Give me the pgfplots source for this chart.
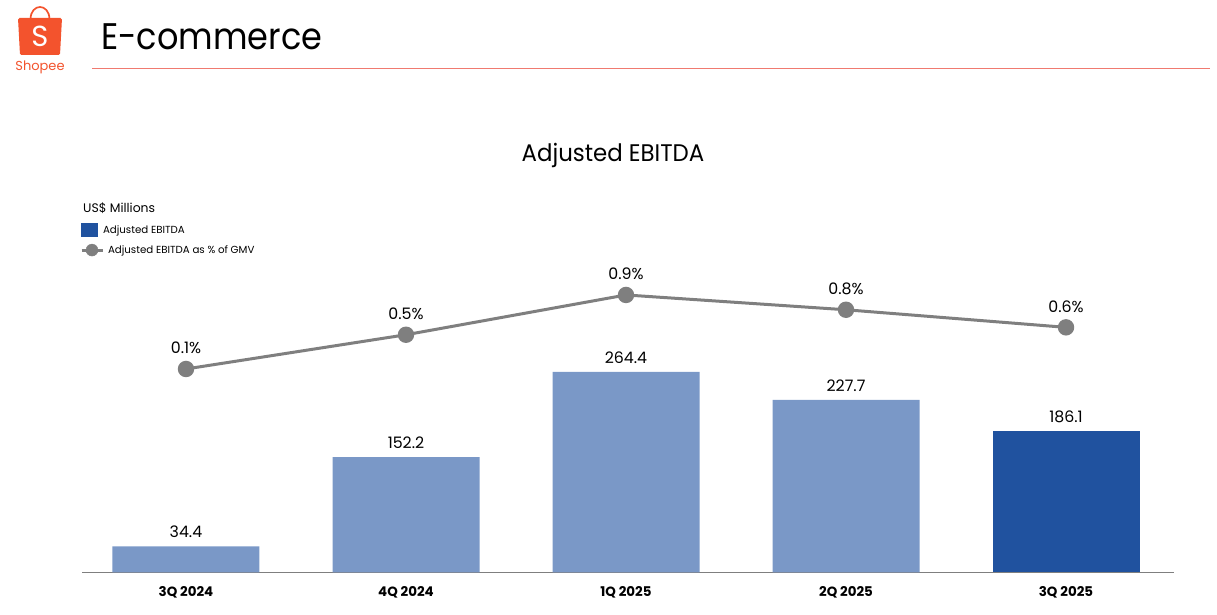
\documentclass[border=0pt]{standalone}
\usepackage{fontspec}
\usepackage{pgfplots}
\pgfplotsset{compat=1.18}
\setmainfont{Liberation Sans}
\newfontfamily\headfont{Poppins}
\newfontfamily\titlefont[FakeStretch=0.906]{Poppins}
\newfontfamily\subtitlefont[FakeStretch=0.953]{Poppins}
\definecolor{barlight}{HTML}{7A98C7}
\definecolor{bardark}{HTML}{20529F}
\definecolor{linegrey}{HTML}{7F7F7F}
\definecolor{shopee}{HTML}{F3532D}
\definecolor{rulered}{HTML}{F07A70}
\begin{document}
\begin{tikzpicture}[x=1pt,y=1pt]
  \path[use as bounding box] (0,0) rectangle (1217,615);

  % bars, 0.758 px per US$ million
  \begin{axis}[
      name=bars,
      at={(82pt,42.5pt)}, anchor=south west,
      scale only axis, width=1092pt, height=300pt,
      xmin=-0.4727, xmax=4.4909,
      ymin=0, ymax=395.6,
      axis x line*=bottom,
      axis y line=none,
      axis line style={draw=linegrey, line width=1pt, -},
      xtick={0,1,2,3,4},
      xticklabels={3Q 2024,4Q 2024,1Q 2025,2Q 2025,3Q 2025},
      major tick length=0pt,
      xticklabel style={font=\headfont\bfseries\fontsize{13.4}{15}\selectfont, text=black, yshift=-10pt},
      ybar, bar shift=0pt, bar width=147pt,
      point meta=explicit symbolic,
      nodes near coords,
      nodes near coords style={font=\headfont\fontsize{15.8}{17}\selectfont, text=black, yshift=5pt},
      clip=false,
      legend style={
        at={(-2pt,349pt)}, anchor=north west, draw=none, fill=none,
        font=\headfont\fontsize{10.25}{13}\selectfont,
        inner sep=0pt, outer sep=0pt,
        row sep=6.5pt, cells={anchor=west},
      },
    ]
    \addplot[draw=none, fill=barlight, forget plot] coordinates {
      (0,34.4) [34.4]
      (1,152.2) [152.2]
      (2,264.4) [264.4]
      (3,227.7) [227.7]
    };
    \addplot[draw=none, fill=bardark, forget plot] coordinates {
      (4,186.1) [186.1]
    };
    \addlegendimage{legend image code/.code={\fill[bardark] (0pt,-6.5pt) rectangle (16pt,6.5pt);}}
    \addlegendentry{\hspace*{-3pt}Adjusted EBITDA}
    \addlegendimage{legend image code/.code={
      \draw[linegrey, line width=3pt] (0pt,0pt) -- (21pt,0pt);
      \fill[linegrey] (10.5pt,0pt) circle (6pt);}}
    \addlegendentry{\hspace*{2pt}Adjusted EBITDA as \% of GMV}
  \end{axis}

  % line on its own hidden scale
  \begin{axis}[
      at={(82pt,42.5pt)}, anchor=south west,
      scale only axis, width=1092pt, height=300pt,
      xmin=-0.4727, xmax=4.4909,
      ymin=-2.07, ymax=1.173,
      hide axis,
      clip=false,
      point meta=explicit symbolic,
      nodes near coords,
      nodes near coords style={font=\headfont\fontsize{15.8}{17}\selectfont, text=black, yshift=10pt},
    ]
    \addplot[linegrey, line width=3pt, mark=*, mark size=6.7pt, mark options={fill=linegrey, draw=none}] coordinates {
      (0,0.13) [0.1\%]
      (1,0.50) [0.5\%]
      (2,0.93) [0.9\%]
      (3,0.77) [0.8\%]
      (4,0.58) [0.6\%]
    };
  \end{axis}

  % slide furniture, coordinates in reference pixels from the top
  \begin{scope}[yshift=615pt, y=-1pt]
    \draw[rulered, line width=1.2pt] (92,68.5) -- (1210,68.5);
    \node[anchor=west, inner sep=0pt, font=\titlefont\fontsize{37}{40}\selectfont] at (101,37) {E-commerce};
    \node[inner sep=0pt, font=\subtitlefont\fontsize{24}{28}\selectfont] at (613,155) {Adjusted EBITDA};
    \node[anchor=west, inner sep=0pt, font=\headfont\fontsize{12.4}{15}\selectfont] at (83,208.5) {US\$ Millions};
    % logo
    \draw[shopee, line width=1.7pt] (30.5,19) .. controls (31,3) and (49,3) .. (49.5,19);
    \fill[shopee, rounded corners=1.5pt] (18,18) -- (62,18) -- (60,55) -- (20,55) -- cycle;
    \node[text=white, inner sep=0pt, font=\headfont\fontsize{29}{30}\selectfont] at (40,36) {S};
    \node[text=shopee, inner sep=0pt, font=\headfont\fontsize{13}{15}\selectfont] at (40,67.5) {Shopee};
  \end{scope}
\end{tikzpicture}
\end{document}
